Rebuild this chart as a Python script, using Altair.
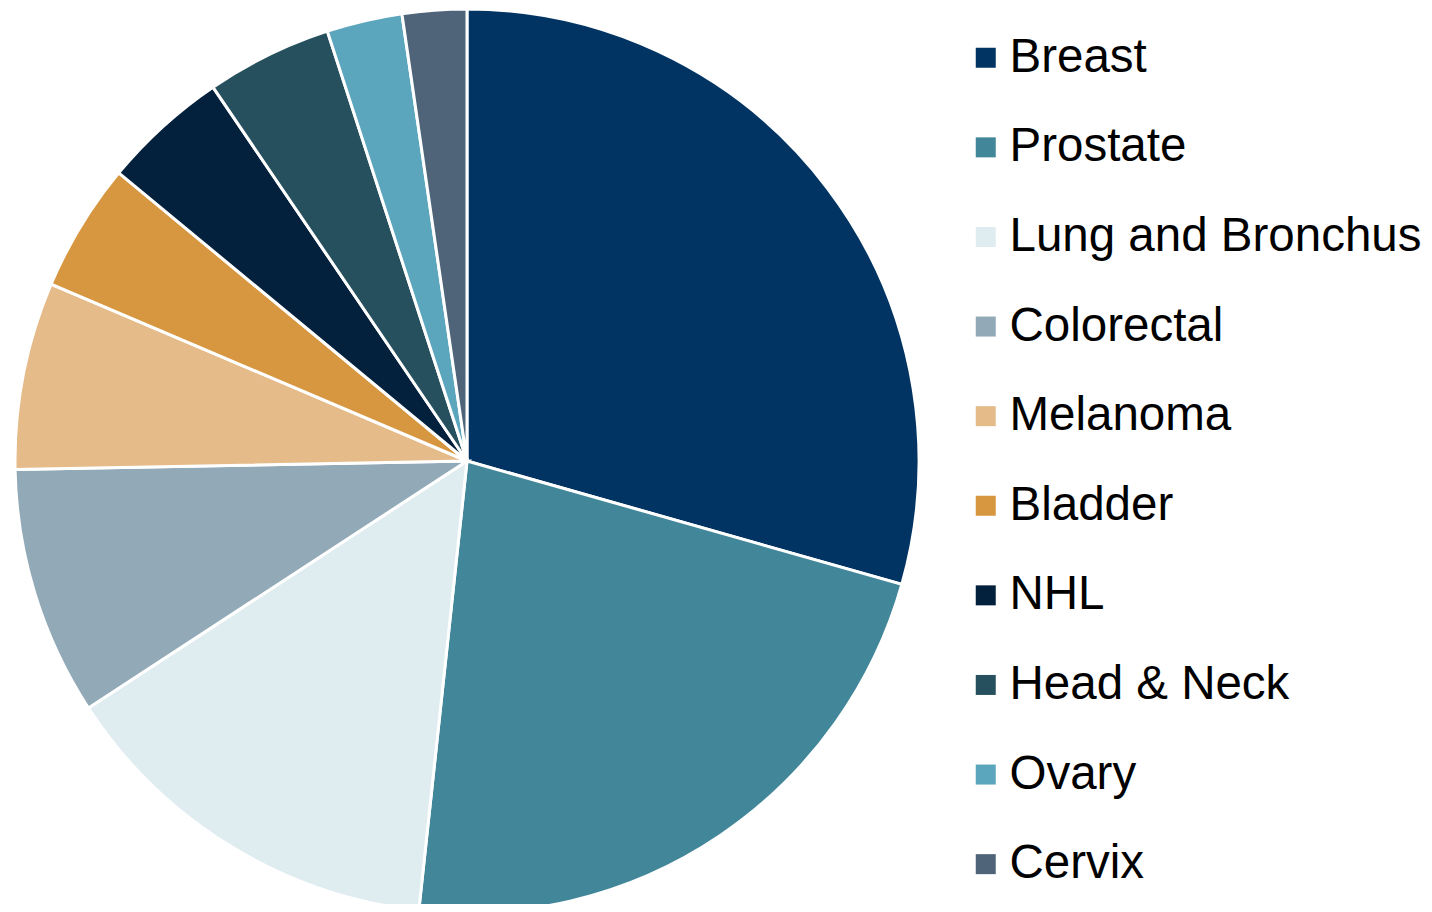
import altair as alt
import pandas as pd

categories = ["Breast", "Prostate", "Lung and Bronchus", "Colorectal", "Melanoma",
              "Bladder", "NHL", "Head & Neck", "Ovary", "Cervix"]
shares = [29.4, 22.3, 14.1, 8.9, 6.7, 4.6, 4.5, 4.5, 2.7, 2.3]
colors = ["#013462", "#418699", "#DFECF0", "#92A9B7", "#E5BB8A",
          "#D79741", "#03203C", "#26505D", "#5BA5BD", "#4F6479"]

df = pd.DataFrame({"category": categories, "share": shares, "idx": list(range(len(categories)))})

chart = alt.Chart(df).mark_arc(radius=452, stroke="white", strokeWidth=3).encode(
    theta=alt.Theta("share:Q", stack=True),
    order=alt.Order("idx:Q", sort="ascending"),
    x=alt.value(459),
    y=alt.value(453),
    color=alt.Color(
        "category:N",
        scale=alt.Scale(domain=categories, range=colors),
        sort=categories,
        legend=alt.Legend(
            title=None,
            orient="none",
            legendX=954,
            legendY=26,
            symbolType="square",
            symbolSize=400,
            symbolStrokeWidth=0,
            labelFont="Liberation Sans",
            labelFontSize=47.5,
            labelColor="black",
            labelOffset=0,
            labelLimit=600,
            rowPadding=40.6,
            padding=0,
        ),
    ),
).properties(
    width=1416, height=896,
    padding=0,
    autosize=alt.AutoSizeParams(type="none"),
).configure_view(stroke=None)

chart.save("out.html", embed_options={"renderer": "svg", "actions": False})
